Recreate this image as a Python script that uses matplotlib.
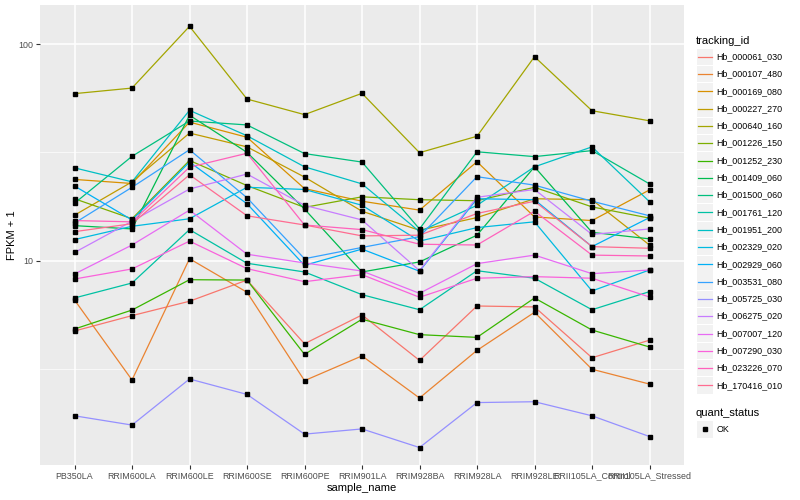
import matplotlib
matplotlib.use("Agg")
import matplotlib.pyplot as plt
from matplotlib.patches import Rectangle
from matplotlib.lines import Line2D
from matplotlib.ticker import FixedLocator, NullFormatter

plt.rcParams['font.family'] = ['Liberation Sans', 'DejaVu Sans']

# Data (FPKM + 1)
samples = ["PB350LA", "RRIM600LA", "RRIM600LE", "RRIM600SE", "RRIM600PE", "RRIM901LA",
           "RRIM928BA", "RRIM928LA", "RRIM928LE", "RRII105LA_Control", "RRII105LA_Stressed"]

tracking_ids = ["Hb_000061_030", "Hb_000107_480", "Hb_000169_080", "Hb_000227_270",
                "Hb_000640_160", "Hb_001226_150", "Hb_001252_230", "Hb_001409_060",
                "Hb_001500_060", "Hb_001761_120", "Hb_001951_200", "Hb_002329_020",
                "Hb_002929_060", "Hb_003531_080", "Hb_005725_030", "Hb_006275_020",
                "Hb_007007_120", "Hb_007290_030", "Hb_023226_070", "Hb_170416_010"]

colors = ["#F8766D", "#EA8331", "#D89000", "#C09B00", "#A3A500", "#7CAE00", "#39B600",
          "#00BB4E", "#00BF7D", "#00C1A3", "#00BFC4", "#00BAE0", "#00B0F6", "#35A2FF",
          "#9590FF", "#C77CFF", "#E76BF3", "#FA62DB", "#FF62BC", "#FF6C91"]

hb_000061_030 = [4.73, 5.57, 6.49, 8.13, 4.13, 5.61, 3.46, 6.17, 6.11, 3.56, 4.29]
hb_000107_480 = [6.58, 2.81, 10.2, 7.14, 2.79, 3.63, 2.32, 3.85, 5.77, 3.15, 2.69]
hb_000169_080 = [23.7, 22.7, 43.6, 37.1, 21.5, 18.8, 17.1, 28.6, 15.9, 15.3, 21.2]
hb_000227_270 = [16.2, 23.1, 38.8, 33.5, 24.3, 16.9, 13.8, 15.8, 19.3, 19.1, 11.8]
hb_000640_160 = [59.0, 62.6, 120.7, 55.7, 47.2, 59.2, 31.5, 37.5, 87.4, 49.2, 44.2]
hb_001226_150 = [19.3, 15.6, 29.0, 22.2, 17.6, 19.7, 19.1, 18.9, 21.8, 17.7, 15.7]
hb_001252_230 = [4.83, 5.91, 8.16, 8.13, 3.69, 5.36, 4.55, 4.42, 6.72, 4.78, 3.99]
hb_001409_060 = [14.5, 14.0, 46.9, 31.6, 17.3, 8.86, 9.86, 13.1, 27.1, 13.5, 12.6]
hb_001500_060 = [18.4, 30.3, 44.1, 42.3, 31.2, 28.5, 14.0, 31.8, 30.2, 32.2, 22.6]
hb_001761_120 = [6.72, 7.88, 13.9, 9.72, 8.86, 6.96, 5.93, 8.98, 8.29, 5.93, 7.19]
hb_001951_200 = [26.8, 23.1, 49.4, 37.7, 27.1, 22.6, 13.6, 18.0, 27.1, 33.5, 18.7]
hb_002329_020 = [12.5, 14.4, 15.6, 21.8, 21.3, 18.0, 12.3, 14.2, 15.1, 7.24, 9.05]
hb_002929_060 = [22.1, 15.4, 28.5, 18.3, 9.51, 11.3, 8.93, 19.3, 19.1, 11.6, 15.8]
hb_003531_080 = [14.9, 21.8, 32.5, 19.5, 10.2, 11.5, 12.9, 24.4, 22.3, 18.8, 16.1]
hb_005725_030 = [1.92, 1.74, 2.84, 2.41, 1.58, 1.67, 1.37, 2.21, 2.23, 1.92, 1.54]
hb_006275_020 = [10.9, 15.2, 21.4, 25.1, 18.0, 15.4, 8.98, 19.6, 21.3, 13.2, 14.0]
hb_007007_120 = [8.67, 11.8, 17.1, 10.7, 9.75, 8.95, 7.06, 9.68, 10.6, 8.70, 9.05]
hb_007290_030 = [8.22, 9.15, 12.3, 9.18, 7.99, 8.61, 6.77, 8.29, 8.43, 8.29, 6.79]
hb_023226_070 = [15.3, 15.1, 27.0, 31.3, 14.6, 13.9, 11.9, 11.8, 16.9, 10.6, 10.5]
hb_170416_010 = [13.6, 14.8, 24.9, 16.1, 14.6, 13.0, 13.1, 16.5, 18.8, 11.6, 11.4]

series = [hb_000061_030, hb_000107_480, hb_000169_080, hb_000227_270, hb_000640_160,
          hb_001226_150, hb_001252_230, hb_001409_060, hb_001500_060, hb_001761_120,
          hb_001951_200, hb_002329_020, hb_002929_060, hb_003531_080, hb_005725_030,
          hb_006275_020, hb_007007_120, hb_007290_030, hb_023226_070, hb_170416_010]

W, H = 800, 500
fig = plt.figure(figsize=(8, 5), dpi=100)
ax = fig.add_axes([40 / W, 35 / H, 644 / W, 460 / H])
ax.set_facecolor("#EBEBEB")
for s in ax.spines.values():
    s.set_visible(False)

x = list(range(len(samples)))
for vals, c in zip(series, colors):
    ax.plot(x, vals, color=c, lw=0.9, zorder=3)
for vals in series:
    ax.plot(x, vals, ls="none", marker="s", ms=2.2, color="black", zorder=4)

ax.set_yscale("log")
ax.set_ylim(1.138, 151.4)
ax.set_xlim(-0.6, len(samples) - 0.4)
ax.set_yticks([10, 100])
ax.set_yticklabels(["10", "100"])
ax.yaxis.set_minor_locator(FixedLocator([10 ** 0.5, 10 ** 1.5]))
ax.yaxis.set_minor_formatter(NullFormatter())
ax.set_xticks(x)
ax.set_xticklabels(samples)
ax.grid(which="major", color="white", lw=1.1)
ax.grid(which="minor", axis="y", color="white", lw=0.5)
ax.set_axisbelow(True)
ax.tick_params(which="minor", length=0)
ax.tick_params(which="major", length=2.7, width=0.8, color="#333333",
               labelsize=6.4, labelcolor="#4D4D4D", pad=2)
ax.set_xlabel("sample_name", fontsize=8, labelpad=2)
ax.set_ylabel("FPKM + 1", fontsize=8, labelpad=1)

# legend (drawn by hand, ggplot style)
def fx(px):
    return px / W

def fy(py):
    return 1 - py / H

fig.text(fx(696), fy(40.7), "tracking_id", fontsize=8, va="center", ha="left")
for i, (name, c) in enumerate(zip(tracking_ids, colors)):
    yc = 56.7 + i * 17.3
    fig.patches.append(Rectangle((fx(696.5), fy(yc + 8.2)), 16.6 / W, 16.4 / H,
                                 transform=fig.transFigure, facecolor="#F2F2F2",
                                 edgecolor="none"))
    fig.add_artist(Line2D([fx(698), fx(711.5)], [fy(yc), fy(yc)], color=c, lw=0.9,
                          transform=fig.transFigure))
    fig.text(fx(716.5), fy(yc), name, fontsize=6.4, va="center", ha="left")

fig.text(fx(696), fy(412.7), "quant_status", fontsize=8, va="center", ha="left")
fig.patches.append(Rectangle((fx(696.5), fy(429.3 + 8.2)), 16.6 / W, 16.4 / H,
                             transform=fig.transFigure, facecolor="#F2F2F2",
                             edgecolor="none"))
fig.add_artist(Line2D([fx(704.8)], [fy(429.3)], ls="none", marker="s", ms=2.2,
                      color="black", transform=fig.transFigure))
fig.text(fx(716.5), fy(429.3), "OK", fontsize=6.4, va="center", ha="left")

fig.savefig("out.png", dpi=100)
